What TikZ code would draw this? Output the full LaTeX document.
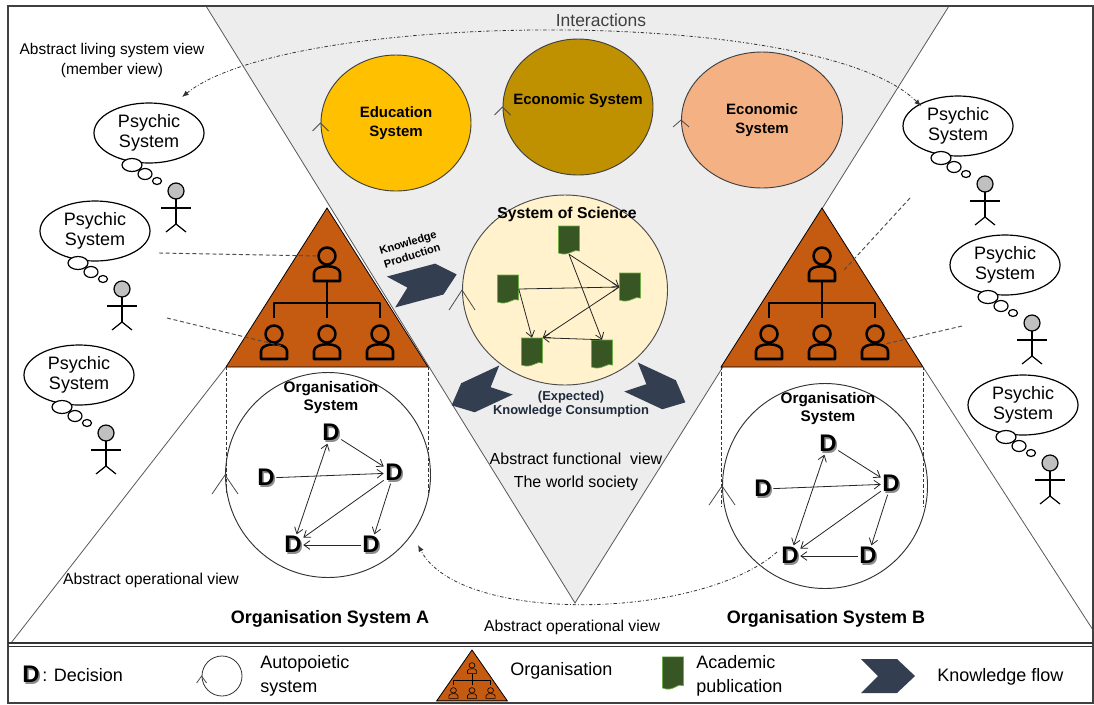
\documentclass[tikz,border=0pt]{standalone}
\usepackage{fontspec}
\setmainfont{Liberation Sans}
\usetikzlibrary{arrows.meta,shapes.geometric,calc}

\definecolor{funcgray}{HTML}{EDEDED}
\definecolor{edugold}{HTML}{FFC000}
\definecolor{econbrown}{HTML}{BF9000}
\definecolor{econsalmon}{HTML}{F4B183}
\definecolor{sciyellow}{HTML}{FFF2CC}
\definecolor{orgorange}{HTML}{C55A11}
\definecolor{flownavy}{HTML}{333F50}
\definecolor{pubgreen}{HTML}{375623}
\definecolor{pubedge}{HTML}{70AD47}
\definecolor{headgray}{HTML}{C0C0C0}
\definecolor{labelgray}{HTML}{404040}
\definecolor{consnavy}{HTML}{1F2A3C}

% bold decision letter with a soft drop shadow
\newcommand\shadowD{\makebox[0pt][l]{\kern1.2pt\raisebox{-1.2pt}{\textcolor{black!45}{D}}}D}

\tikzset{
  frame/.style={draw=black!75, line width=0.9pt},
  edgeline/.style={draw=black!65, line width=0.6pt},
  personline/.style={line width=1.9pt, line join=round},
  caretline/.style={draw=black!70, line width=0.6pt},
  psybubble/.style={ellipse, draw, fill=white, line width=0.9pt,
    minimum width=82.5pt, minimum height=45pt, inner sep=0pt, align=center,
    font=\fontsize{13.5}{15}\selectfont},
  sysellipse/.style={ellipse, draw=black!75, line width=0.7pt,
    minimum width=112.5pt, minimum height=102pt, inner sep=0pt, align=center,
    font=\bfseries\fontsize{11.25}{13.8}\selectfont},
  autocircle/.style={circle, draw=black!80, line width=0.7pt,
    minimum size=153.75pt, inner sep=0pt},
  dnode/.style={inner sep=1pt, font=\bfseries\fontsize{18}{18}\selectfont},
  dlink/.style={draw=black!85, line width=0.6pt,
    -{Straight Barb[length=4.5pt,width=6.5pt]}},
  pubnode/.style={rectangle, minimum width=15.75pt, minimum height=21pt, inner sep=0pt},
  linkdash/.style={draw=black!70, line width=0.7pt, dash pattern=on 3pt off 2pt},
  vdash/.style={draw=black!80, line width=0.6pt, dash pattern=on 2.5pt off 1.5pt},
  dashdotarc/.style={draw=black!80, line width=0.6pt,
    dash pattern=on 2.5pt off 1.5pt on 0.6pt off 1.5pt},
  bigtip/.tip={Latex[length=5pt,width=4pt]},
  plain/.style={font=\fontsize{11.6}{15}\selectfont, align=center, inner sep=0pt},
  orgtitle/.style={font=\bfseries\fontsize{11.5}{13.5}\selectfont, align=center, inner sep=0pt},
  legendtext/.style={font=\fontsize{13.5}{18}\selectfont, align=left, anchor=west, inner sep=0pt},
  % a member icon: round head over rounded shoulders
  pics/person/.style={code={
    \draw[personline] (0,-11) circle[radius=8.5];
    \draw[personline] (-13,14) -- (-13,6) .. controls (-13,-3) and (13,-3) .. (13,6) -- (13,14) -- cycle;
  }},
  % organisation: orange pyramid with its hierarchy
  pics/orgtri/.style={code={
    \path[draw=black, fill=orgorange, line width=0.6pt] (0,0) -- (101,159) -- (-101,159) -- cycle;
    \coordinate (-baseL) at (-101,159);
    \coordinate (-baseR) at (101,159);
    \coordinate (-tophead) at (-8,48);
    \coordinate (-topR) at (22,62);
    \coordinate (-blbody) at (-45,138);
    \coordinate (-brbody) at (63,136);
    \draw[personline] (0,74) -- (0,110);
    \draw[personline] (-53,110) -- (-53,95) -- (53,95) -- (53,110);
    \pic[transform shape] at (0,59) {person};
    \pic[transform shape] at (-53,137) {person};
    \pic[transform shape] at (0,137) {person};
    \pic[transform shape] at (53,137) {person};
  }},
  % psychic system: thought bubble and stick figure
  pics/psychic/.style={code={
    \node[psybubble] (-bubble) at (0,0) {Psychic\\System};
    \draw[fill=white, line width=0.9pt] (-17,32) ellipse [x radius=10, y radius=6.5];
    \draw[fill=white, line width=0.9pt] (-4,41) ellipse [x radius=7, y radius=5.5];
    \draw[fill=white, line width=0.9pt] (8,48) ellipse [x radius=4.5, y radius=3.5];
    \draw[fill=headgray, line width=0.9pt] (27,58) circle[radius=8];
    \draw[line width=0.9pt] (27,66) -- (27,91);
    \draw[line width=0.9pt] (12,75) -- (42,75);
    \draw[line width=0.9pt] (17,99) -- (27,91) -- (37,99);
  }},
  % academic publication: document with a wavy foot
  pics/pubdoc/.style={code={
    \path[fill=pubgreen, draw=pubedge, line width=0.5pt]
      (-10.5,-14) -- (10.5,-14) -- (10.5,11) .. controls (5,8) and (0,17) .. (-10.5,13) -- cycle;
  }},
  % knowledge flow chevron: length, half height
  pics/chevron/.style n args={2}{code={
    \path[fill=flownavy] (0,-#2) -- (#1-18,-#2) -- (#1,0) -- (#1-18,#2) -- (0,#2) -- (17,0) -- cycle;
  }},
  % direction mark of an autopoietic circle: half width, height
  pics/caret/.style n args={2}{code={
    \draw[caretline] (-#1,#2) -- (0,0) -- (#1,#2);
  }},
}

\begin{document}
\begin{tikzpicture}[x=0.75pt,y=-0.75pt]
\useasboundingbox (0,0) rectangle (1094,704);
\fill[white] (0,0) rectangle (1094,704);

% abstract functional view: the world society
\path[fill=funcgray, edgeline] (206,6) -- (949,6) -- (575,603) -- cycle;

% organisations A and B
\pic (oA) at (327,208) {orgtri};
\pic (oB) at (822,208) {orgtri};

% abstract operational view outlines
\coordinate (opA) at (11,643);
\coordinate (opB) at (1093,630);
\draw[edgeline] (oA-baseL) -- (opA);
\draw[edgeline] (oB-baseR) -- (opB);

% projection of each pyramid onto its organisation system
\coordinate (vA1) at (226,493);
\coordinate (vA2) at (428,493);
\coordinate (vB1) at (721,507);
\coordinate (vB2) at (923,507);
\draw[vdash] (oA-baseL) -- (vA1);
\draw[vdash] (oA-baseR) -- (vA2);
\draw[vdash] (oB-baseL) -- (vB1);
\draw[vdash] (oB-baseR) -- (vB2);

% function systems
\node[sysellipse, fill=edugold] (edu) at (396,123) {Education\\System};
\node[sysellipse, fill=econbrown] (econ) at (578,107) {};
\node[font=\bfseries\fontsize{11.25}{13.8}\selectfont, inner sep=0pt] (econlbl) at (578,101) {Economic System};
\node[sysellipse, fill=econsalmon, minimum width=120.75pt] (econ2) at (762,120) {Economic\\System};
\pic at (edu.west) {caret={8}{8}};
\pic at (econ.west) {caret={8}{8}};
\pic at (econ2.west) {caret={8}{7}};

% system of science
\node[ellipse, draw=black!70, line width=0.7pt, fill=sciyellow,
      minimum width=153.75pt, minimum height=142.5pt] (sci) at (565,290) {};
\pic at (sci.west) {caret={13}{20}};
\node[font=\bfseries\fontsize{11.8}{14}\selectfont, inner sep=0pt] (scilbl) at (567,214) {System of Science};

\node[pubnode] (p1) at (569,240) {};
\node[pubnode] (p2) at (508,289) {};
\node[pubnode] (p3) at (630,287) {};
\node[pubnode] (p4) at (532,352) {};
\node[pubnode] (p5) at (602,354) {};
\foreach \n in {p1,p2,p3,p4,p5} \pic at (\n) {pubdoc};
\draw[dlink] (p1.south) -- (p3.west);
\draw[dlink] (p1.south) -- (p5.north);
\draw[dlink] (p2.east) -- (p3.west);
\draw[dlink] (p2.east) -- (p4.north);
\draw[dlink] (p3.west) -- (p4.north east);
\draw[dlink] (p5.north) -- (p4.north east);

% knowledge flows
\pic[rotate=15] (kprod) at (391,292) {chevron={68}{16}};
\pic[rotate=205] (kconsA) at (506,380) {chevron={60}{16}};
\pic[rotate=-25] (kconsB) at (631,377) {chevron={60}{16}};
\node[rotate=17, font=\bfseries\fontsize{8.3}{10.5}\selectfont, align=center, inner sep=0pt]
  (kprodlbl) at (410,249) {Knowledge\\Production};
\node[font=\bfseries\fontsize{9.7}{10.5}\selectfont, align=center, inner sep=0pt, text=consnavy]
  (kconslbl) at (571,404) {(Expected)\\Knowledge Consumption};

% organisation systems with their decision networks
\node[autocircle] (orgA) at (328,475) {};
\node[autocircle] (orgB) at (825,486) {};
\pic at (orgA.west) {caret={13}{19}};
\pic at (orgB.west) {caret={13}{19}};
\foreach \s/\cx/\cy in {A/328/475, B/825/486}{
  \node[orgtitle] (t\s) at (\cx+3,\cy-77) {Organisation\\System};
  \node[dnode] (d\s t) at (\cx+3,\cy-42) {\shadowD};
  \node[dnode] (d\s l) at (\cx-62,\cy+3) {\shadowD};
  \node[dnode] (d\s r) at (\cx+66,\cy-2) {\shadowD};
  \node[dnode] (d\s bl) at (\cx-35,\cy+70) {\shadowD};
  \node[dnode] (d\s br) at (\cx+43,\cy+70) {\shadowD};
  \draw[dlink] (d\s l) -- (d\s r);
  \draw[dlink] (d\s t) -- (d\s r);
  \draw[dlink, {Straight Barb[length=4.5pt,width=6.5pt]}-{Straight Barb[length=4.5pt,width=6.5pt]}] (d\s bl) -- (d\s t);
  \draw[dlink] (d\s r) -- (d\s bl);
  \draw[dlink] (d\s r) -- (d\s br);
  \draw[dlink] (d\s br) -- (d\s bl);
}

% psychic systems (members)
\pic (psyL1) at (149,133) {psychic};
\pic (psyL2) at (95,231) {psychic};
\pic (psyL3) at (79,375) {psychic};
\pic (psyR1) at (958,126) {psychic};
\pic (psyR2) at (1005,265) {psychic};
\pic (psyR3) at (1023,405) {psychic};

% membership links
\coordinate (lk1) at (159,253);
\coordinate (lk2) at (167,318);
\coordinate (lk3) at (910,198);
\coordinate (lk4) at (962,326);
\draw[linkdash] (lk1) -- (oA-tophead);
\draw[linkdash] (lk2) -- (oA-blbody);
\draw[linkdash] (lk3) -- (oB-topR);
\draw[linkdash] (lk4) -- (oB-brbody);

% interactions between views
\coordinate (arcL) at (182,97);
\coordinate (arcR) at (921,106);
\draw[dashdotarc, bigtip-bigtip] (arcL) .. controls (290,10) and (820,5) .. (arcR);
\coordinate (arcB1) at (777,552);
\coordinate (arcB2) at (418,545);
\draw[dashdotarc, -bigtip] (arcB1) .. controls (700,620) and (460,625) .. (arcB2);

% view labels
\node[plain] (lblliving) at (112,60) {Abstract living system view\\(member view)};
\node[font=\fontsize{13.1}{15}\selectfont, text=labelgray, inner sep=0pt] (lblinter) at (601,20) {Interactions};
\node[font=\fontsize{12}{17.25}\selectfont, align=center, inner sep=0pt] (lblfunc) at (576,472)
  {Abstract functional\ \ view\\The world society};
\node[font=\fontsize{11.8}{14}\selectfont, inner sep=0pt] (lblopA) at (151,580) {Abstract operational view};
\node[font=\fontsize{11.8}{14}\selectfont, inner sep=0pt] (lblopB) at (572,627) {Abstract operational view};
\node[font=\bfseries\fontsize{13.5}{15}\selectfont, inner sep=0pt] (nameA) at (330,619) {Organisation System A};
\node[font=\bfseries\fontsize{13.5}{15}\selectfont, inner sep=0pt] (nameB) at (826,619) {Organisation System B};

% frame and legend separator
\draw[frame] (8,6) rectangle (1093,703);
\draw[line width=1.2pt, black!80] (8,643) -- (1093,643);
\draw[line width=0.6pt, black!80] (8,646.5) -- (1093,646.5);

% legend
\node[font=\bfseries\fontsize{18}{18}\selectfont, inner sep=0pt] (legD) at (31,675) {\shadowD};
\node[legendtext] (legDTxt) at (42,675) {: Decision};
\node[circle, draw=black!80, line width=0.6pt, minimum size=30pt, inner sep=0pt] (legCirc) at (222,676) {};
\pic at (legCirc.west) {caret={5}{7}};
\node[legendtext] (legAuto) at (260,676) {Autopoietic\\system};
\pic[xscale=0.35, yscale=0.32, personline/.style={line width=0.45pt}] (legOrg) at (472,650) {orgtri};
\node[legendtext] (legOrgTxt) at (510,671) {Organisation};
\node[pubnode, minimum height=24.75pt] (legPub) at (673,673) {};
\pic[yscale=1.15] at (legPub) {pubdoc};
\node[legendtext] (legPubTxt) at (696,676) {Academic\\publication};
\pic (legFlow) at (861,676) {chevron={54}{17}};
\node[legendtext] (legFlowTxt) at (937,677) {Knowledge flow};
\end{tikzpicture}
\end{document}
